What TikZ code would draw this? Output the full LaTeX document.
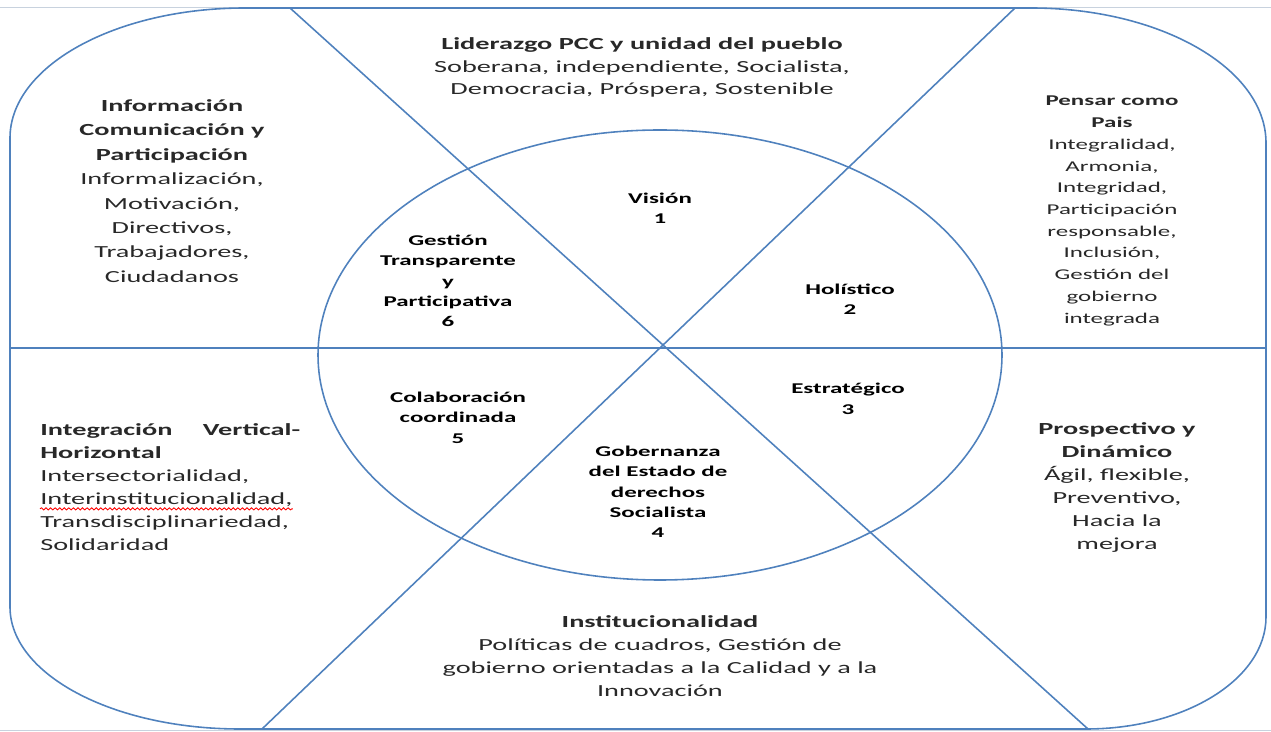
\documentclass[tikz,border=0pt]{standalone}
\usepackage{fontspec}
\setmainfont{Carlito}[FakeStretch=1.67]
\usetikzlibrary{decorations.pathmorphing}
\definecolor{lineblue}{RGB}{79,129,189}
\definecolor{framegray}{RGB}{200,210,222}
\definecolor{txt}{RGB}{40,40,40}
\begin{document}
\begin{tikzpicture}[x=0.02cm,y=-0.02cm,
  edge/.style={draw=lineblue, line width=0.9pt},
  frame/.style={draw=framegray, line width=0.6pt},
  body/.style={align=center, inner sep=0pt, text=txt, font=\fontsize{9.64}{13.04}\selectfont},
  bodyl/.style={inner sep=0pt, text=txt, anchor=base west, font=\fontsize{9.64}{13.04}\selectfont},
  small/.style={align=center, inner sep=0pt, text=txt, font=\fontsize{8.5}{12.36}\selectfont},
  core/.style={align=center, inner sep=0pt, text=black, font=\bfseries\fontsize{8.5}{11.6}\selectfont},
  wave/.style={draw=red, line width=0.5pt, decorate, decoration={snake, amplitude=0.6pt, segment length=2.6pt}},
]
\useasboundingbox (0,0) rectangle (1271,732);
% faint picture frame
\coordinate (F1) at (0,7.5);   \coordinate (F2) at (1271,7.5);
\coordinate (F3) at (0,730.5); \coordinate (F4) at (1271,730.5);
\draw[frame] (F1) -- (F2);
\draw[frame] (F3) -- (F4);
% outer rounded frame
\draw[edge] (10,138) arc[start angle=180,end angle=270,x radius=235,y radius=130]
  -- (1031,8) arc[start angle=270,end angle=360,x radius=235,y radius=135]
  -- (1266,617) arc[start angle=0,end angle=90,x radius=180,y radius=112]
  -- (240,729) arc[start angle=90,end angle=180,x radius=230,y radius=122] -- cycle;
% inner ellipse
\coordinate (E) at (660,355);
\draw[edge] (E) ellipse [x radius=342, y radius=225];
% dividing lines
\coordinate (A1) at (290,8);   \coordinate (A2) at (1088,729);
\coordinate (B1) at (1015,8);  \coordinate (B2) at (262,729);
\coordinate (H1) at (10,348);  \coordinate (H2) at (1266,348);
\draw[edge] (A1) -- (A2);
\draw[edge] (B1) -- (B2);
\draw[edge] (H1) -- (H2);
% outer texts
\node[body] (top) at (642,67.5) {\textbf{Liderazgo PCC y unidad del pueblo}\\Soberana, independiente, Socialista,\\Democracia, Próspera, Sostenible};
\node[body, font=\fontsize{9.64}{13.9}\selectfont] (lt) at (172,191) {\textbf{Información}\\\textbf{Comunicación y}\\\textbf{Participación}\\Informalización,\\Motivación,\\Directivos,\\Trabajadores,\\Ciudadanos};
\node[small] (rt) at (1112,211) {\textbf{Pensar como}\\\textbf{Pais}\\Integralidad,\\Armonia,\\Integridad,\\Participación\\responsable,\\Inclusión,\\Gestión del\\gobierno\\integrada};
\node[body] (rb) at (1117,487.5) {\textbf{Prospectivo y}\\\textbf{Dinámico}\\Ágil, flexible,\\Preventivo,\\Hacia la\\mejora};
\node[body] (bot) at (660,656) {\textbf{Institucionalidad}\\Políticas de cuadros, Gestión de\\gobierno orientadas a la Calidad y a la\\Innovación};
\node[bodyl] (lb1) at (40,436) {\hbox to 5.2cm{\textbf{Integración}\hfill\textbf{Vertical-}}};
\node[bodyl] (lb2) at (40,459) {\textbf{Horizontal}};
\node[bodyl] (lb3) at (40,482) {Intersectorialidad,};
\node[bodyl] (lb4) at (40,505) {Interinstitucionalidad,};
\node[bodyl] (lb5) at (40,528) {Transdisciplinariedad,};
\node[bodyl] (lb6) at (40,551) {Solidaridad};
\draw[wave] ([yshift=-2.2pt]lb4.base west) -- ([yshift=-2.2pt]lb4.base east);
% core texts
\node[core] (c1) at (660,208.5) {Visión\\1};
\node[core] (c2) at (850,299) {Holístico\\2};
\node[core] (c3) at (848,399) {Estratégico\\3};
\node[core] (c4) at (658,492) {Gobernanza\\del Estado de\\derechos\\Socialista\\4};
\node[core] (c5) at (458,417.5) {Colaboración\\coordinada\\5};
\node[core] (c6) at (448,281) {Gestión\\Transparente\\y\\Participativa\\6};
\end{tikzpicture}
\end{document}
